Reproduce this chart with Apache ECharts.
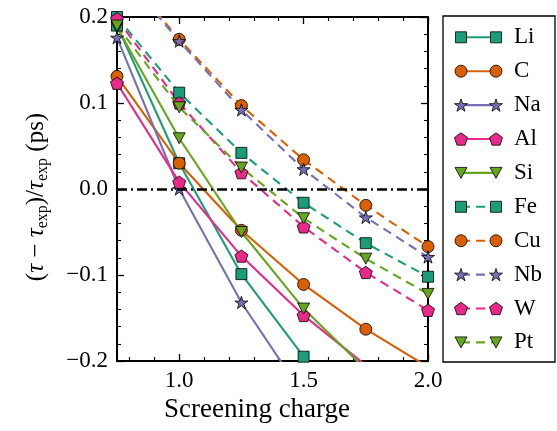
<!DOCTYPE html>
<html><head><meta charset="utf-8">
<script src="https://cdn.jsdelivr.net/npm/echarts@6/dist/echarts.min.js"></script>
<style>html,body{margin:0;padding:0;background:#fff}#c{width:557px;height:431px}</style>
</head><body><div id="c"></div>
<script>
// ---- data ----
const xValues = [0.75, 1.0, 1.25, 1.5, 1.75, 2.0];
const Li = [0.190, 0.030, -0.099, -0.195, -0.290, -0.380];
const C  = [0.131, 0.030, -0.048, -0.111, -0.163, -0.207];
const Na = [0.176, 0.000, -0.132, -0.240, -0.330, -0.420];
const Al = [0.123, 0.008, -0.078, -0.147, -0.205, -0.260];
const Si = [0.188, 0.059, -0.050, -0.139, -0.210, -0.270];
const Fe = [0.200, 0.112, 0.042, -0.016, -0.063, -0.102];
const Cu = [0.260, 0.174, 0.097, 0.034, -0.019, -0.067];
const Nb = [0.258, 0.172, 0.092, 0.023, -0.033, -0.079];
const W  = [0.198, 0.100, 0.019, -0.044, -0.097, -0.141];
const Pt = [0.190, 0.095, 0.025, -0.034, -0.081, -0.122];
const xMajorTicks = [1.0, 1.5, 2.0];
const xMinorTicks = [0.8, 0.9, 1.1, 1.2, 1.3, 1.4, 1.6, 1.7, 1.8, 1.9];
const xLabel = 'Screening charge';

const FONT = '"Liberation Serif", "DejaVu Serif", serif';
const TEAL = '#1b9e77', ORANGE = '#d95f02', PURPLE = '#7570b3', PINK = '#e7298a', GREEN = '#66a61e';

const defs = [
  {name:'Li', data:Li, color:TEAL,   marker:'square',   dashed:false},
  {name:'C',  data:C,  color:ORANGE, marker:'circle',   dashed:false},
  {name:'Na', data:Na, color:PURPLE, marker:'star',     dashed:false},
  {name:'Al', data:Al, color:PINK,   marker:'pentagon', dashed:false},
  {name:'Si', data:Si, color:GREEN,  marker:'tri',      dashed:false},
  {name:'Fe', data:Fe, color:TEAL,   marker:'square',   dashed:true},
  {name:'Cu', data:Cu, color:ORANGE, marker:'circle',   dashed:true},
  {name:'Nb', data:Nb, color:PURPLE, marker:'star',     dashed:true},
  {name:'W',  data:W,  color:PINK,   marker:'pentagon', dashed:true},
  {name:'Pt', data:Pt, color:GREEN,  marker:'tri',      dashed:true}
];

// marker outlines (unit shapes)
const SHAPES = {
  square: [[-1,-1],[1,-1],[1,1],[-1,1]],
  star: [[0,-1],[0.2245,-0.309],[0.951,-0.309],[0.363,0.118],[0.588,0.809],[0,0.382],[-0.588,0.809],[-0.363,0.118],[-0.951,-0.309],[-0.2245,-0.309]],
  pentagon: [[0,-1],[0.951,-0.309],[0.588,0.809],[-0.588,0.809],[-0.951,-0.309]],
  tri: [[-1,-1],[1,-1],[0,1]]
};
function toPath(pts){ return 'path://M' + pts.map(p => p[0] + ',' + p[1]).join('L') + 'Z'; }
const SIZE = {square:[11,11], circle:[12,12], star:[13,12.4], pentagon:[13,12.4], tri:[12,11]};
const DASH = [9, 6];

const series = defs.map((d, k) => {
  const s = {
    type:'line', name:d.name, xAxisIndex:0, yAxisIndex:0,
    data: xValues.map((x, i) => [x, d.data[i]]),
    symbol: d.marker === 'circle' ? 'circle' : toPath(SHAPES[d.marker]),
    symbolSize: SIZE[d.marker],
    showAllSymbol: true,
    clip: true,
    lineStyle: {color:d.color, width:2.1, type: d.dashed ? DASH : 'solid'},
    itemStyle: {color:d.color, borderColor:'#000', borderWidth:0.8, opacity:1},
    emphasis: {disabled:true},
    animation:false
  };
  if (k === 0) {
    s.markLine = {
      silent:true, symbol:'none', animation:false,
      label:{show:false},
      lineStyle:{color:'#000', width:2.5, type:[10,4,2,4]},
      data:[{yAxis:0}]
    };
  }
  return s;
});

// legend built as graphic elements
function markerPoints(marker, cx, cy){
  const pts = SHAPES[marker], sz = SIZE[marker];
  let minX=Infinity,maxX=-Infinity,minY=Infinity,maxY=-Infinity;
  pts.forEach(p=>{minX=Math.min(minX,p[0]);maxX=Math.max(maxX,p[0]);minY=Math.min(minY,p[1]);maxY=Math.max(maxY,p[1]);});
  const sx = sz[0]/(maxX-minX), sy = sz[1]/(maxY-minY);
  const ox = (minX+maxX)/2, oy = (minY+maxY)/2;
  return pts.map(p => [cx + (p[0]-ox)*sx, cy + (p[1]-oy)*sy]);
}
const graphics = [];
const LX0 = 443, LY0 = 16, LW = 112, LH = 346;
graphics.push({type:'rect', shape:{x:LX0, y:LY0, width:LW, height:LH},
  style:{fill:'#fff', stroke:'#000', lineWidth:1.3}, z:10});
defs.forEach((d, i) => {
  const cy = 37.3 + i * 33.9;
  const xa = 461, xb = 496;
  graphics.push({type:'line', shape:{x1:xa, y1:cy, x2:xb, y2:cy},
    style:{stroke:d.color, lineWidth:2.1, lineDash: d.dashed ? DASH : null}, z:11});
  [xa, xb].forEach(cx => {
    if (d.marker === 'circle') {
      graphics.push({type:'circle', shape:{cx:cx, cy:cy, r:SIZE.circle[0]/2},
        style:{fill:d.color, stroke:'#000', lineWidth:0.8}, z:12});
    } else {
      graphics.push({type:'polygon', shape:{points:markerPoints(d.marker, cx, cy)},
        style:{fill:d.color, stroke:'#000', lineWidth:0.8}, z:12});
    }
  });
  graphics.push({type:'text', x:514, y:cy, z:12,
    style:{text:d.name, fontFamily:FONT, fontSize:23, fill:'#000', verticalAlign:'middle', align:'left'}});
});
// axis titles
graphics.push({type:'text', x:257, y:410, z:12,
  style:{text:xLabel, fontFamily:FONT, fontSize:27, fill:'#000', align:'center', verticalAlign:'middle'}});
graphics.push({type:'text', x:36, y:197, rotation:Math.PI/2, z:12,
  style:{
    text:'{n|(}{i|τ}{n| − }{i|τ}{s|exp}{n|)/}{i|τ}{s|exp}{n| (ps)}',
    align:'center', verticalAlign:'middle',
    rich:{
      n:{fontFamily:FONT, fontSize:25, fill:'#000', lineHeight:29},
      i:{fontFamily:FONT, fontSize:25, fontStyle:'italic', fill:'#000', lineHeight:29},
      s:{fontFamily:FONT, fontSize:16, fill:'#000', lineHeight:17, verticalAlign:'bottom'}
    }
  }});

const gridBox = {left:117, top:17, width:311, height:344, containLabel:false};
const axisLineStyle = {color:'#000', width:2};
const majorTick = {show:true, inside:true, length:7, lineStyle:{color:'#000', width:1.3}};
const minorTickX = {show:true, inside:true, length:4, lineStyle:{color:'#000', width:1.1}};
const yFmt = v => (v < -1e-9 ? '−' : '') + Math.abs(v).toFixed(1);

const option = {
  animation:false,
  backgroundColor:'#fff',
  grid:[Object.assign({}, gridBox), Object.assign({}, gridBox)],
  xAxis:[
    {gridIndex:0, type:'value', min:0.75, max:2.0, position:'bottom',
     axisLine:{show:true, onZero:false, lineStyle:axisLineStyle},
     axisTick:Object.assign({customValues:xMajorTicks}, majorTick),
     axisLabel:{customValues:xMajorTicks, formatter:v => v.toFixed(1), fontFamily:FONT, fontSize:23, color:'#000', margin:8},
     splitLine:{show:false}},
    {gridIndex:0, type:'value', min:0.75, max:2.0, position:'top',
     axisLine:{show:true, onZero:false, lineStyle:axisLineStyle},
     axisTick:Object.assign({customValues:xMajorTicks}, majorTick),
     axisLabel:{show:false}, splitLine:{show:false}},
    {gridIndex:1, type:'value', min:0.75, max:2.0, position:'bottom',
     axisLine:{show:false, onZero:false},
     axisTick:Object.assign({customValues:xMinorTicks}, minorTickX),
     axisLabel:{show:false}, splitLine:{show:false}},
    {gridIndex:1, type:'value', min:0.75, max:2.0, position:'top',
     axisLine:{show:false, onZero:false},
     axisTick:Object.assign({customValues:xMinorTicks}, minorTickX),
     axisLabel:{show:false}, splitLine:{show:false}}
  ],
  yAxis:[
    {gridIndex:0, type:'value', min:-0.2, max:0.2, interval:0.1, position:'left',
     axisLine:{show:true, onZero:false, lineStyle:axisLineStyle},
     axisTick:majorTick,
     minorTick:{show:true, splitNumber:5, length:4, lineStyle:{color:'#000', width:1.1}},
     axisLabel:{formatter:yFmt, fontFamily:FONT, fontSize:23, color:'#000', margin:9},
     splitLine:{show:false}, minorSplitLine:{show:false}},
    {gridIndex:0, type:'value', min:-0.2, max:0.2, interval:0.1, position:'right',
     axisLine:{show:true, onZero:false, lineStyle:axisLineStyle},
     axisTick:majorTick,
     minorTick:{show:true, splitNumber:5, length:4, lineStyle:{color:'#000', width:1.1}},
     axisLabel:{show:false},
     splitLine:{show:false}, minorSplitLine:{show:false}},
    {gridIndex:1, type:'value', min:-0.2, max:0.2, show:false}
  ],
  series: series,
  graphic: {elements: graphics}
};
const chart = echarts.init(document.getElementById('c'), null, {renderer:'canvas'});
chart.setOption(option);
</script>
</body></html>
